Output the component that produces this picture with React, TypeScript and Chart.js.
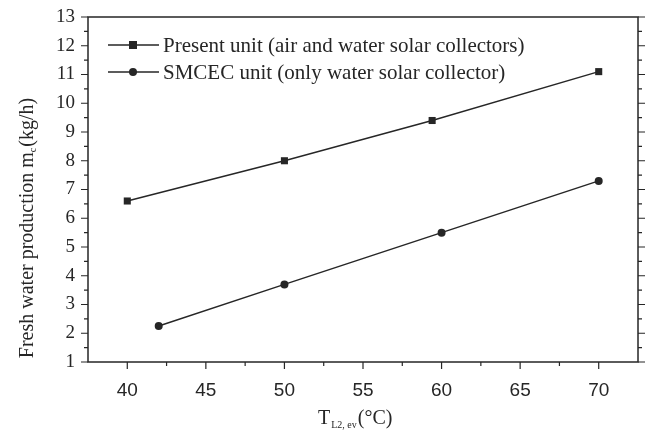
import React, { useEffect, useRef } from "react";
import { Chart, registerables } from "chart.js";
Chart.register(...registerables);

const presentX = [40, 50, 59.4, 70];
const presentY = [6.6, 8.0, 9.4, 11.1];
const smcecX = [42, 50, 60, 70];
const smcecY = [2.25, 3.7, 5.5, 7.3];
const seriesLabels = [
  "Present unit (air and water solar collectors)",
  "SMCEC unit (only water solar collector)",
];
const xTicks = [40, 45, 50, 55, 60, 65, 70];
const yTicks = [1, 2, 3, 4, 5, 6, 7, 8, 9, 10, 11, 12, 13];
const xRange = [37.5, 72.5];
const yRange = [1, 13];

const INK = "#262626";
const SERIF = "'Liberation Serif', 'DejaVu Serif', serif";
const SANS = "'Liberation Sans', Arial, sans-serif";

const decorPlugin = {
  id: "decor",
  afterDraw(chart: any) {
    const { ctx, chartArea: a, scales } = chart;
    const xs = scales.x;
    const ys = scales.y;
    ctx.save();
    ctx.strokeStyle = INK;
    ctx.lineWidth = 1.5;
    ctx.strokeRect(a.left, a.top, a.right - a.left, a.bottom - a.top);
    ctx.lineWidth = 1.2;
    ctx.beginPath();
    yTicks.forEach((v, i) => {
      const py = ys.getPixelForValue(v);
      ctx.moveTo(a.left - 7, py);
      ctx.lineTo(a.left, py);
      ctx.moveTo(a.right, py);
      ctx.lineTo(a.right + 7, py);
      if (i < yTicks.length - 1) {
        const pm = ys.getPixelForValue(v + 0.5);
        ctx.moveTo(a.left - 4, pm);
        ctx.lineTo(a.left, pm);
        ctx.moveTo(a.right, pm);
        ctx.lineTo(a.right + 4, pm);
      }
    });
    xTicks.forEach((v, i) => {
      const px = xs.getPixelForValue(v);
      ctx.moveTo(px, a.bottom);
      ctx.lineTo(px, a.bottom + 7);
      if (i < xTicks.length - 1) {
        const pm = xs.getPixelForValue(v + 2.5);
        ctx.moveTo(pm, a.bottom);
        ctx.lineTo(pm, a.bottom + 4);
      }
    });
    ctx.stroke();

    // legend inside plot
    ctx.fillStyle = INK;
    ctx.font = `21px ${SERIF}`;
    ctx.textBaseline = "middle";
    ctx.textAlign = "left";
    const rows = [45, 72];
    chart.data.datasets.forEach((ds: any, i: number) => {
      const yy = rows[i];
      ctx.lineWidth = 1.5;
      ctx.beginPath();
      ctx.moveTo(108, yy);
      ctx.lineTo(159, yy);
      ctx.stroke();
      if (ds.pointStyle === "rect") {
        ctx.fillRect(129, yy - 4, 8, 8);
      } else {
        ctx.beginPath();
        ctx.arc(133, yy, 4, 0, Math.PI * 2);
        ctx.fill();
      }
      ctx.fillText(ds.label, 163, yy + 1);
    });

    // x axis title with subscript
    const tx = 318;
    const base = 424;
    ctx.textBaseline = "alphabetic";
    ctx.font = `20px ${SERIF}`;
    ctx.fillText("T", tx, base);
    let cx = tx + ctx.measureText("T").width;
    ctx.font = `10px ${SERIF}`;
    ctx.fillText("L2, ev", cx + 1, base + 4);
    cx += ctx.measureText("L2, ev").width + 2;
    ctx.font = `20px ${SERIF}`;
    ctx.fillText("(°C)", cx, base);

    // y axis title rotated with subscript
    ctx.save();
    ctx.translate(33, 228);
    ctx.rotate(-Math.PI / 2);
    const p1 = "Fresh water production m";
    const sub = "c";
    const p2 = "(kg/h)";
    ctx.font = `20px ${SERIF}`;
    const w1 = ctx.measureText(p1).width;
    const w3 = ctx.measureText(p2).width;
    ctx.font = `10px ${SERIF}`;
    const w2 = ctx.measureText(sub).width + 1;
    const total = w1 + w2 + w3;
    let sx = -total / 2;
    ctx.font = `20px ${SERIF}`;
    ctx.fillText(p1, sx, 0);
    sx += w1;
    ctx.font = `10px ${SERIF}`;
    ctx.fillText(sub, sx, 3);
    sx += w2;
    ctx.font = `20px ${SERIF}`;
    ctx.fillText(p2, sx, 0);
    ctx.restore();

    ctx.restore();
  },
};

export default function App() {
  const ref = useRef<HTMLCanvasElement | null>(null);
  useEffect(() => {
    if (!ref.current) return;
    const mk = (xsArr: number[], ysArr: number[]) =>
      xsArr.map((x, i) => ({ x, y: ysArr[i] }));
    const chart = new Chart(ref.current, {
      type: "line",
      data: {
        datasets: [
          {
            label: seriesLabels[0],
            data: mk(presentX, presentY),
            borderColor: INK,
            backgroundColor: INK,
            borderWidth: 1.5,
            pointStyle: "rect",
            pointRadius: 5,
            pointBorderWidth: 0,
            tension: 0,
          },
          {
            label: seriesLabels[1],
            data: mk(smcecX, smcecY),
            borderColor: INK,
            backgroundColor: INK,
            borderWidth: 1.5,
            pointStyle: "circle",
            pointRadius: 4,
            pointBorderWidth: 0,
            tension: 0,
          },
        ],
      },
      options: {
        animation: false,
        responsive: false,
        maintainAspectRatio: false,
        layout: { padding: { left: 0, top: 17, right: 8, bottom: 0 } },
        plugins: { legend: { display: false }, tooltip: { enabled: false } },
        scales: {
          x: {
            type: "linear",
            min: xRange[0],
            max: xRange[1],
            grid: { display: false },
            border: { display: false },
            afterBuildTicks: (s: any) => {
              s.ticks = xTicks.map((v) => ({ value: v }));
            },
            afterFit: (s: any) => {
              s.height = 73;
            },
            ticks: {
              color: INK,
              padding: 9,
              maxRotation: 0,
              font: { family: SANS, size: 19 },
            },
          },
          y: {
            type: "linear",
            min: yRange[0],
            max: yRange[1],
            grid: { display: false },
            border: { display: false },
            afterBuildTicks: (s: any) => {
              s.ticks = yTicks.map((v) => ({ value: v }));
            },
            afterFit: (s: any) => {
              s.width = 88;
            },
            ticks: {
              color: INK,
              padding: 5,
              font: { family: SERIF, size: 19 },
            },
          },
        },
      },
      plugins: [decorPlugin],
    } as any);
    return () => chart.destroy();
  }, []);
  return (
    <div style={{ position: "fixed", left: 0, top: 0, width: 646, height: 435, background: "#fff" }}>
      <canvas ref={ref} width={646} height={435} style={{ display: "block" }} />
    </div>
  );
}
